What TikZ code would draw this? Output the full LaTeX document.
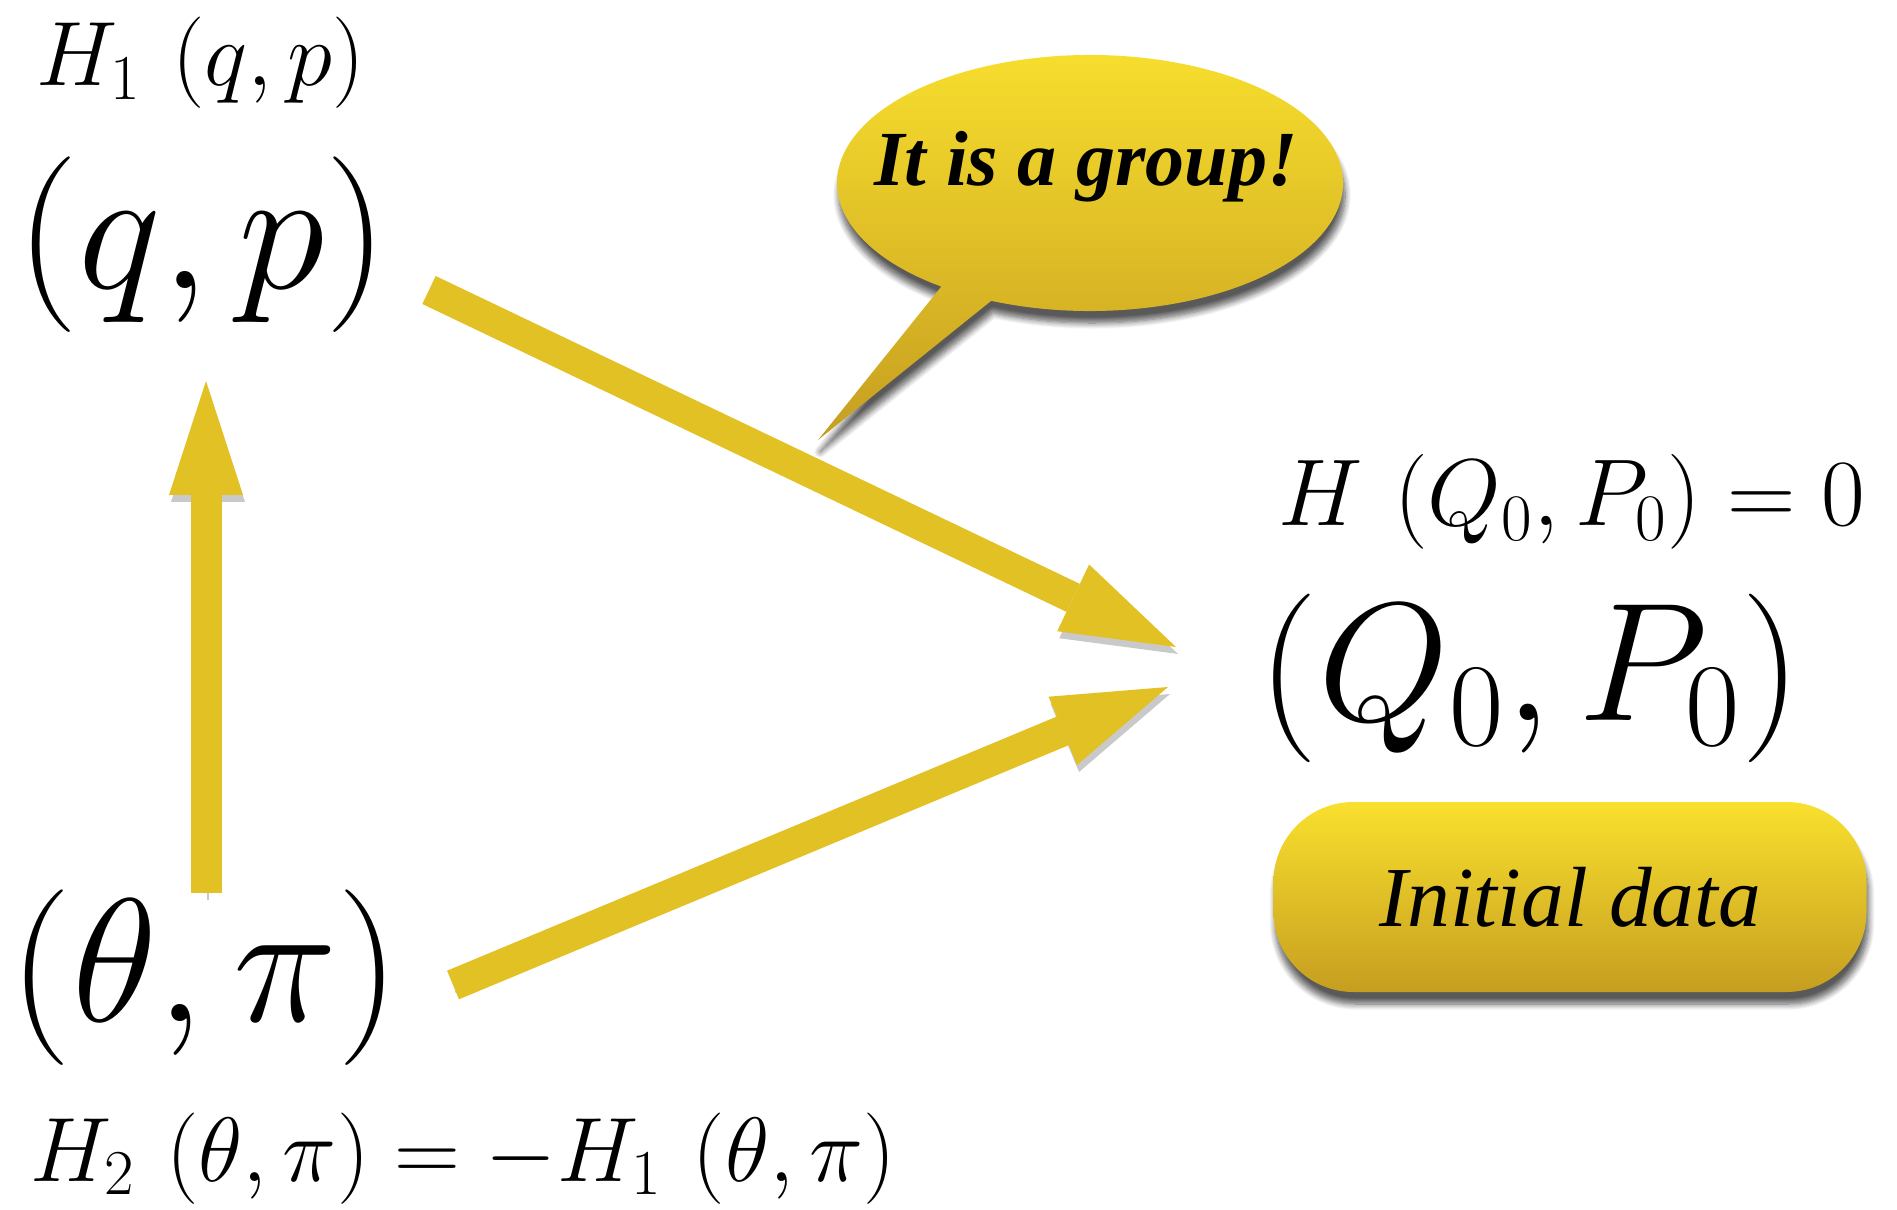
\RequirePackage{fix-cm}
\documentclass[tikz,border=0pt]{standalone}
\usepackage{amsmath, amssymb}
\usepackage[no-math]{fontspec}
\usepackage{xcolor}
\usepackage{tikz}
\usetikzlibrary{positioning, arrows.meta, calc, shadows.blur}
\newfontfamily\calloutfont{Liberation Serif}
\definecolor{goldtop}{RGB}{249,224,46}
\definecolor{goldbot}{RGB}{198,158,32}
\definecolor{goldarr}{RGB}{226,193,36}

\begin{document}
\begin{tikzpicture}[
      bigmath/.style = {font=\fontsize{50}{60}\selectfont, inner sep=0pt, anchor=base},
      smallmath/.style = {font=\fontsize{26}{31}\selectfont, inner sep=0pt, anchor=base},
      arr/.style = {line width=0.31cm, draw=goldarr,
                    -{Triangle[width=0.74cm, length=1.14cm, line width=0pt]},
                    preaction={draw=black!70, opacity=0.3,
                               transform canvas={shift={(0.02cm,-0.07cm)}}}},
      goldfill/.style = {top color=goldtop, bottom color=goldbot,
                         blur shadow={shadow xshift=0.02cm, shadow yshift=-0.12cm,
                                      shadow blur steps=8, shadow opacity=65}},
      databox/.style = {goldfill, rounded corners=0.8cm,
                        minimum width=5.93cm, minimum height=1.9cm}
    ]
    \useasboundingbox (0,0) rectangle (18.97,12.09);
    % left column
    \node[bigmath] (qp) at (2.02,9.20) {$(q,p)$};
    \node[smallmath, anchor=base west] (hqp) at (0.36,11.23) {$H_1\,\left(q,p\right)$};
    \node[bigmath] (tp) at (2.05,1.88) {$(\theta,\pi)$};
    \node[smallmath, anchor=base west] (htp) at (0.30,0.28)
         {$H_2\,\left(\theta,\pi\right)=-H_1\,\left(\theta,\pi\right)$};
    % right column
    \node[bigmath, font=\fontsize{48}{58}\selectfont] (QP) at (15.30,4.89) {$(Q_0,P_0)$};
    \node[smallmath, font=\fontsize{27}{32}\selectfont] (hQP) at (15.72,6.83)
         {$H\,\left(Q_0,P_0\right)=0$};
    \node[databox] (init) at (15.70,3.12)
         {\calloutfont\fontsize{24.3}{29}\selectfont\itshape Initial data};
    % arrow ends
    \coordinate (tp-up)  at (2.06,3.16);
    \coordinate (qp-dn)  at (2.06,8.28);
    \coordinate (qp-out) at (4.29,9.19);
    \coordinate (QP-in1) at (11.76,5.62);
    \coordinate (tp-out) at (4.53,2.24);
    \coordinate (QP-in2) at (11.68,5.22);
    \draw[arr] (tp-up)  -- (qp-dn);
    \draw[arr] (qp-out) -- (QP-in1);
    \draw[arr] (tp-out) -- (QP-in2);
    % speech bubble
    \coordinate (bub)  at (10.90,10.26);
    \coordinate (tail) at (8.18,7.69);
    \path[goldfill] (tail) -- ($(bub)+(247:2.53 and 1.28)$)
          arc[start angle=247, end angle=594, x radius=2.53cm, y radius=1.28cm] -- cycle;
    \node (group) at (10.86,10.42)
         {\calloutfont\fontsize{22.2}{27}\selectfont\bfseries\itshape It is a group!};
  \end{tikzpicture}
\end{document}
